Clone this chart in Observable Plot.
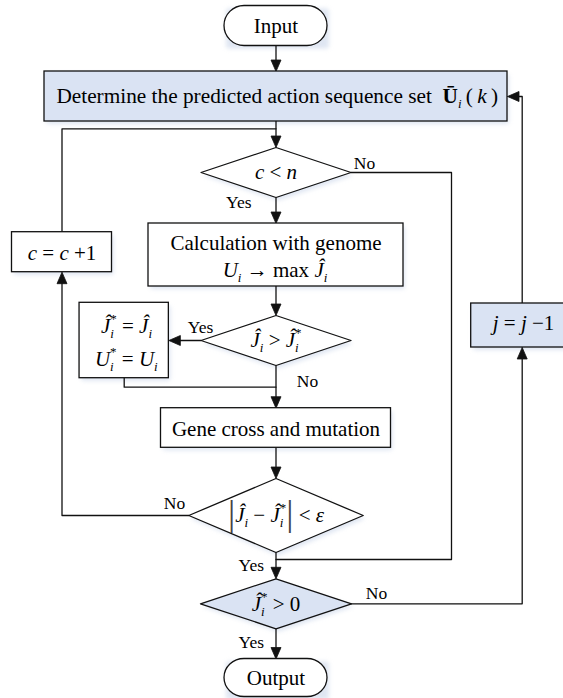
<!DOCTYPE html>
<html>
<head>
<meta charset="utf-8">
<script src="https://cdn.jsdelivr.net/npm/d3@7"></script>
<script src="https://cdn.jsdelivr.net/npm/@observablehq/plot@0.6"></script>
<style>
  body { margin: 0; background: #fff; }
</style>
</head>
<body>
<div id="chart"></div>
<script>
// ---------- canvas ----------
const W = 563, H = 698;

// ---------- flowchart nodes ----------
const nodeIds    = ["input", "determine", "cn", "calc", "cc1", "jgt", "jset", "gene", "conv", "jpos", "jdec", "output"];
const nodeKinds  = ["pill", "rect", "diamond", "rect", "rect", "diamond", "rect", "rect", "diamond", "diamond", "rect", "pill"];
const nodeCx     = [275.5, 275.5, 275.5, 275.5, 61.5, 275.5, 123.7, 275.5, 275.5, 275.5, 521.7, 275.5];
const nodeCy     = [25.5, 96, 172, 254.5, 251.7, 340, 340, 427.5, 515, 603.3, 325, 677.5];
const nodeW      = [103, 463, 150, 255, 100, 150, 89.3, 230, 174.4, 151, 102, 103];
const nodeH      = [40, 50, 50, 63, 40, 50, 75.4, 39.6, 74, 50, 44, 38];
const nodeFilled = [false, true, false, false, false, false, false, false, false, true, true, false];

// routing lanes
const laneLeftX   = 61.5;
const laneRight1X = 451;
const laneRight2X = 521.7;
const mainX       = 275.5;
const loopY       = 128.3;
const bestJoinY   = 386.7;
const exitJoinY   = 559;

// ---------- texts ----------
const plainTexts  = ["Input", "Output", "Calculation with genome", "Gene cross and mutation"];
const plainNodes  = ["input", "output", "calc", "gene"];
const plainDy     = [0, 0, -11.8, 0.8];

// math markup: $..$ italic, #..# bold, _x subscript, ^x superscript, | bar
const mathMarkup = [
  "Determine the predicted action sequence set  #Ū#_i\u2009(\u2009$k$\u2009)",
  "$c$ < $n$",
  "$U$_i → max $Ĵ$_i",
  "$c$ = $c$ +1",
  "$Ĵ$_i > $Ĵ$_i^*",
  "$Ĵ$_i^* = $Ĵ$_i",
  "$U$_i^* = $U$_i",
  "|$Ĵ$_i − $Ĵ$_i^*| < $ε$",
  "$Ĵ$_i^* > 0",
  "$j$ = $j$ −1"
];
const mathNodes = ["determine", "cn", "calc", "cc1", "jgt", "jset", "jset", "conv", "jpos", "jdec"];
const mathSize  = [21.3, 21, 21, 21, 21, 21, 21, 21, 21, 21];
const mathDx    = [1.2, 0, -1, 0, 0, 2.3, 2.1, 0, 0, 1.3];
const mathDy    = [0, 0, 14.8, 1.3, 0, -14, 19, 0, 0, -2];

const branchTexts = ["No", "Yes", "Yes", "No", "No", "Yes", "No", "Yes"];
const branchX     = [364, 238.3, 200, 307, 174, 250.8, 376, 250.8];
const branchY     = [163, 201.7, 326.7, 380.7, 503.3, 565, 593.3, 642.3];

// ---------- build geometry ----------
const nodes = nodeIds.map((id, i) => ({
  id, kind: nodeKinds[i], cx: nodeCx[i], cy: nodeCy[i], filled: nodeFilled[i],
  x1: nodeCx[i] - nodeW[i] / 2, x2: nodeCx[i] + nodeW[i] / 2,
  y1: nodeCy[i] - nodeH[i] / 2, y2: nodeCy[i] + nodeH[i] / 2
}));
const N = Object.fromEntries(nodes.map(n => [n.id, n]));
function A(id, side) {
  const n = N[id];
  if (side === "t") return [n.cx, n.y1];
  if (side === "b") return [n.cx, n.y2];
  if (side === "l") return [n.x1, n.cy];
  return [n.x2, n.cy];
}

const edges = [
  {from: ["input", "b"], to: ["determine", "t"], arrow: true},
  {from: ["determine", "b"], to: ["cn", "t"], arrow: true},
  {from: ["cc1", "t"], turns: [["v", loopY], ["h", mainX]], arrow: false},
  {from: ["cn", "b"], to: ["calc", "t"], arrow: true},
  {from: ["cn", "r"], turns: [["h", laneRight1X], ["v", exitJoinY], ["h", mainX]], arrow: false},
  {from: ["calc", "b"], to: ["jgt", "t"], arrow: true},
  {from: ["jgt", "l"], to: ["jset", "r"], arrow: true},
  {from: ["jset", "b"], turns: [["v", bestJoinY], ["h", mainX]], arrow: false},
  {from: ["jgt", "b"], to: ["gene", "t"], arrow: true},
  {from: ["gene", "b"], to: ["conv", "t"], arrow: true},
  {from: ["conv", "l"], turns: [["h", laneLeftX]], to: ["cc1", "b"], arrow: true},
  {from: ["conv", "b"], to: ["jpos", "t"], arrow: true},
  {from: ["jpos", "r"], turns: [["h", laneRight2X]], to: ["jdec", "b"], arrow: true},
  {from: ["jdec", "t"], turns: [["v", N.determine.cy]], to: ["determine", "r"], arrow: true},
  {from: ["jpos", "b"], to: ["output", "t"], arrow: true}
];

const AL = 11.5, AW = 10;
const edgeRows = [], headRows = [];
edges.forEach((e, k) => {
  const pts = [A(...e.from)];
  (e.turns || []).forEach(([dir, v]) => {
    const [px, py] = pts[pts.length - 1];
    pts.push(dir === "h" ? [v, py] : [px, v]);
  });
  if (e.to) pts.push(A(...e.to));
  if (e.arrow) {
    const [x0, y0] = pts[pts.length - 2], [x1, y1] = pts[pts.length - 1];
    const L = Math.hypot(x1 - x0, y1 - y0), ux = (x1 - x0) / L, uy = (y1 - y0) / L;
    const bx = x1 - ux * AL, by = y1 - uy * AL;
    pts[pts.length - 1] = [bx + ux * 1, by + uy * 1];
    headRows.push({id: k, x: x1, y: y1}, {id: k, x: bx - uy * AW / 2, y: by + ux * AW / 2},
                  {id: k, x: bx + uy * AW / 2, y: by - ux * AW / 2}, {id: k, x: x1, y: y1});
  }
  pts.forEach(p => edgeRows.push({id: k, x: p[0], y: p[1]}));
});

function diamondRows(list, ox = 0, oy = 0) {
  const rows = [];
  list.forEach(n => {
    [[n.cx, n.y1], [n.x2, n.cy], [n.cx, n.y2], [n.x1, n.cy], [n.cx, n.y1]]
      .forEach(([x, y]) => rows.push({id: n.id, x: x + ox, y: y + oy}));
  });
  return rows;
}

const rects    = nodes.filter(n => n.kind === "rect");
const pills    = nodes.filter(n => n.kind === "pill");
const diamonds = nodes.filter(n => n.kind === "diamond");
const BLUE = "#dae3f3", STROKE = "#111", SW = 1.3, SHADOW = "#c5d1e7";

const plainRows = plainTexts.map((t, i) => ({t, x: N[plainNodes[i]].cx, y: N[plainNodes[i]].cy + plainDy[i]}));
const mathRows = mathMarkup.map((m, i) => ({
  t: m.replace(/[$#_^]/g, ""), m, fs: mathSize[i],
  x: N[mathNodes[i]].cx + mathDx[i], y: N[mathNodes[i]].cy + mathDy[i]
}));
const branchRows = branchTexts.map((t, i) => ({t, x: branchX[i], y: branchY[i]}));

const FONT = "'Liberation Serif', 'Times New Roman', serif";

const svg = Plot.plot({
  width: W, height: H, margin: 0,
  x: {domain: [0, W], range: [0, W], axis: null},
  y: {domain: [0, H], range: [0, H], axis: null},
  style: {background: "#fff", fontFamily: FONT, color: "#000"},
  marks: [
    // soft shadows
    Plot.rect(rects.concat(pills), {x1: d => d.x1 + 2, x2: d => d.x2 + 2, y1: d => d.y1 + 3, y2: d => d.y2 + 3,
      fill: SHADOW, fillOpacity: 0.55, rx: 3}),
    Plot.line(diamondRows(diamonds, 2, 3), {x: "x", y: "y", z: "id", fill: SHADOW, fillOpacity: 0.55, stroke: "none"}),
    // connectors
    Plot.line(edgeRows, {x: "x", y: "y", z: "id", stroke: STROKE, strokeWidth: SW, curve: "linear"}),
    Plot.line(headRows, {x: "x", y: "y", z: "id", fill: STROKE, stroke: STROKE, strokeWidth: 0.8}),
    // shapes
    Plot.rect(rects.filter(d => !d.filled), {x1: "x1", x2: "x2", y1: "y1", y2: "y2", fill: "#fff", stroke: STROKE, strokeWidth: SW}),
    Plot.rect(rects.filter(d => d.filled), {x1: "x1", x2: "x2", y1: "y1", y2: "y2", fill: BLUE, stroke: STROKE, strokeWidth: SW}),
    Plot.rect(pills, {x1: "x1", x2: "x2", y1: "y1", y2: "y2", rx: 20, fill: "#fff", stroke: STROKE, strokeWidth: SW}),
    Plot.line(diamondRows(diamonds.filter(d => !d.filled)), {x: "x", y: "y", z: "id", fill: "#fff", stroke: STROKE, strokeWidth: SW}),
    Plot.line(diamondRows(diamonds.filter(d => d.filled)), {x: "x", y: "y", z: "id", fill: BLUE, stroke: STROKE, strokeWidth: SW}),
    // texts
    Plot.text(plainRows, {x: "x", y: "y", text: "t", fontSize: 21, fill: "#000"}),
    Plot.text(mathRows, {x: "x", y: "y", text: "t", fontSize: "fs", fill: "#000"}),
    Plot.text(branchRows, {x: "x", y: "y", text: "t", fontSize: 17.5, fill: "#000"})
  ]
});

// blur the shadow groups
svg.querySelectorAll("g").forEach(g => {
  if ((g.getAttribute("fill") || "").toLowerCase() === SHADOW) g.style.filter = "blur(2px)";
});

// ---------- rich math text ----------
const NS = "http://www.w3.org/2000/svg";
function renderRich(t, s) {
  while (t.firstChild) t.removeChild(t.firstChild);
  t.setAttribute("style", "white-space: pre");
  let italic = false, bold = false, cur = 0;
  const add = (txt, o = {}) => {
    const ts = document.createElementNS(NS, "tspan");
    ts.textContent = txt;
    if (o.size) ts.setAttribute("font-size", o.size);
    if (o.it) ts.setAttribute("font-style", "italic");
    if (o.bd) ts.setAttribute("font-weight", "bold");
    if (o.fill) ts.setAttribute("fill", o.fill);
    const off = o.off || 0;
    if (off !== cur) { ts.setAttribute("dy", off - cur); cur = off; }
    if (o.dx) ts.setAttribute("dx", o.dx);
    t.appendChild(ts);
  };
  for (let i = 0; i < s.length; i++) {
    const c = s[i];
    if (c === "$") { italic = !italic; continue; }
    if (c === "#") { bold = !bold; continue; }
    if (c === "_") {
      const sub = s[i + 1]; i++;
      if (s[i + 1] === "^") {
        const sup = s[i + 2]; i += 2;
        add(sub, {size: 13, off: 5, it: true});
        add(sup, {size: 13, off: -10, dx: -3.6});
      } else add(sub, {size: 13, off: 5, it: true});
      continue;
    }
    if (c === "^") { add(s[i + 1], {size: 13, off: -10}); i++; continue; }
    if (c === "|") { add("|", {size: 36, off: 3, fill: "#444"}); continue; }
    let j = i, run = "";
    while (j < s.length && !"$#_^|".includes(s[j])) { run += s[j]; j++; }
    add(run, {off: 0, it: italic, bd: bold});
    i = j - 1;
  }
}
const markupByPlain = new Map(mathRows.map(r => [r.t, r.m]));
svg.querySelectorAll("text").forEach(t => {
  const m = markupByPlain.get(t.textContent);
  if (m) renderRich(t, m);
});

document.getElementById("chart").appendChild(svg);
</script>
</body>
</html>
